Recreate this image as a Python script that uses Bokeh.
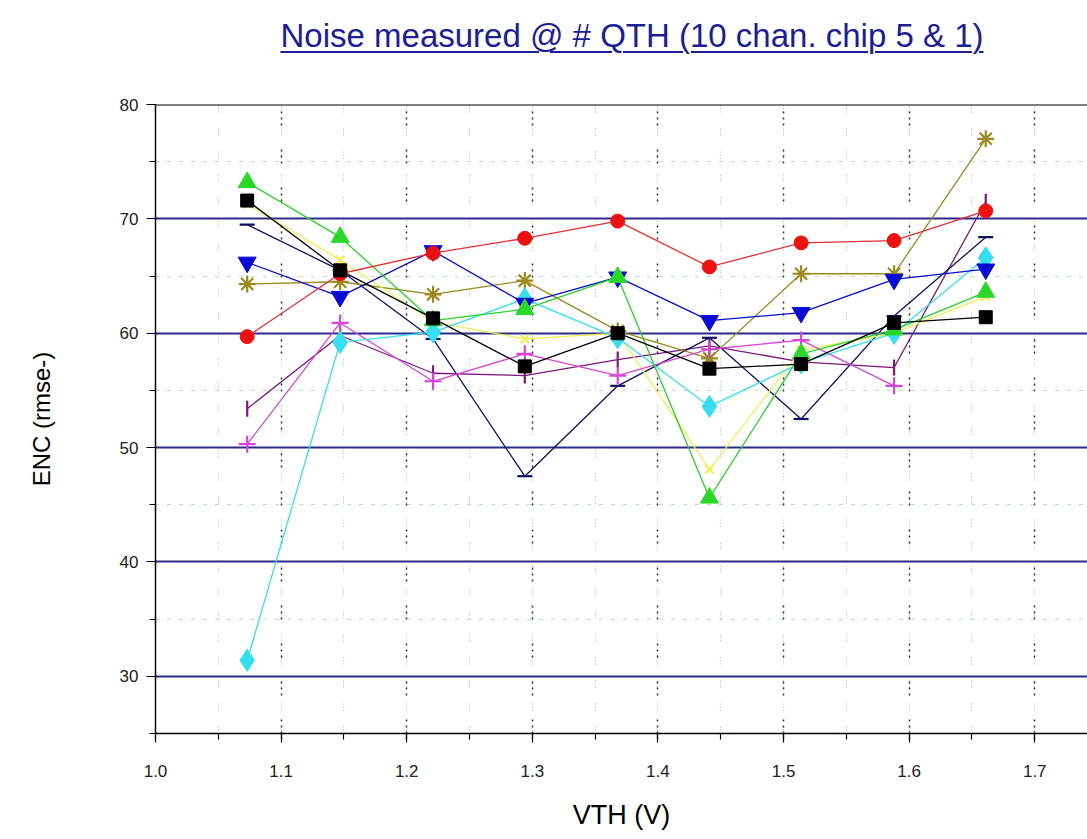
from bokeh.plotting import figure
from bokeh.models import Div, SingleIntervalTicker, PrintfTickFormatter, Span
from bokeh.layouts import column
from bokeh.embed import file_html
from bokeh.resources import INLINE

# ---- data ----
vth = [1.073, 1.147, 1.221, 1.294, 1.368, 1.441, 1.514, 1.588, 1.661]

enc_black_square = [71.6, 65.5, 61.3, 57.1, 60.0, 56.9, 57.3, 60.9, 61.4]
enc_red_circle = [59.7, 65.2, 67.0, 68.3, 69.8, 65.8, 67.9, 68.1, 70.7]
enc_green_triangle = [73.2, 68.4, 61.1, 62.1, 64.9, 45.6, 58.2, 60.3, 63.6]
enc_blue_down = [66.2, 63.2, 67.2, 62.6, 64.9, 61.1, 61.8, 64.7, 65.6]
enc_cyan_diamond = [31.4, 59.2, 60.1, 63.0, 59.6, 53.6, 57.4, 60.0, 66.6]
enc_magenta_plus = [50.3, 60.9, 55.8, 58.2, 56.3, 58.6, 59.4, 55.4]
enc_yellow_x = [71.3, 66.4, 61.0, 59.5, 60.0, 48.1, 58.5, 60.0, 63.2]
enc_olive_star = [64.3, 64.5, 63.4, 64.6, 60.2, 57.8, 65.2, 65.2, 77.0]
enc_navy_dash = [69.5, 65.5, 59.5, 47.5, 55.4, 59.6, 52.5, 61.5, 68.4]
enc_purple_bar = [53.4, 59.8, 56.5, 56.3, 57.7, 58.9, 57.5, 57.0, 71.5]

title_text = "Noise measured @ # QTH (10 chan. chip 5 &amp; 1)"
x_label = "VTH (V)"
y_label = "ENC (rmse-)"

series = [
    # values, marker, line colour, marker colour, size, angle
    (enc_purple_bar, "dash", "#7a1a7a", "#7a1a7a", 16, 1.5708),
    (enc_navy_dash, "dash", "#101060", "#101060", 15, 0.0),
    (enc_olive_star, "asterisk", "#9a8a20", "#9a8a20", 17, 0.0),
    (enc_yellow_x, "x", "#f2ee55", "#f2ee55", 12, 0.0),
    (enc_magenta_plus, "cross", "#d845d8", "#d845d8", 17, 0.0),
    (enc_cyan_diamond, "diamond", "#35dff0", "#35dff0", 22, 0.0),
    (enc_blue_down, "inverted_triangle", "#0a0ad0", "#0a0ad8", 18, 0.0),
    (enc_green_triangle, "triangle", "#2ad22a", "#2ad82a", 18, 0.0),
    (enc_red_circle, "circle", "#e0303a", "#ee1111", 14, 0.0),
    (enc_black_square, "square", "#000000", "#000000", 13, 0.0),
]

div = Div(
    text=(
        '<div style="margin-left:232px;width:800px;text-align:center;white-space:nowrap;'
        "font-family:'Liberation Sans',Arial,sans-serif;font-size:33px;line-height:34px;"
        'padding-top:19px;color:#1d1d95;text-decoration:underline;'
        'text-decoration-thickness:2px;text-underline-offset:4px;">'
        + title_text + "</div>"
    ),
    width=1087, height=64, margin=(0, 0, 0, 0),
)

p = figure(width=1087, height=775, x_range=(1.0, 1.742), y_range=(25, 80),
           output_backend="svg", toolbar_location=None,
           min_border_left=155, min_border_right=0, min_border_top=40,
           min_border_bottom=106, margin=(0, 0, 0, 0))
p.outline_line_color = None
p.background_fill_color = "white"

p.xaxis.ticker = SingleIntervalTicker(interval=0.1, num_minor_ticks=2)
p.yaxis.ticker = SingleIntervalTicker(interval=10, num_minor_ticks=2)
p.xaxis.formatter = PrintfTickFormatter(format="%.1f")

for ax in (p.xaxis, p.yaxis):
    ax.axis_line_color = "black"
    ax.axis_line_width = 1.5
    ax.major_tick_line_color = "black"
    ax.minor_tick_line_color = "black"
    ax.major_tick_line_width = 1.2
    ax.minor_tick_line_width = 1.2
    ax.major_tick_in = 0
    ax.major_tick_out = 9
    ax.minor_tick_in = 0
    ax.minor_tick_out = 6
    ax.major_label_text_font = "Liberation Sans"
    ax.major_label_text_font_size = "17px"
    ax.major_label_text_color = "#222222"
    ax.axis_label_text_font = "Liberation Sans"
    ax.axis_label_text_font_style = "normal"
    ax.axis_label_text_color = "black"

p.xaxis.axis_label = x_label
p.yaxis.axis_label = y_label
p.xaxis.axis_label_text_font_size = "27px"
p.yaxis.axis_label_text_font_size = "24px"
p.xaxis.major_label_standoff = 22
p.yaxis.major_label_standoff = 8
p.xaxis.axis_label_standoff = 20
p.yaxis.axis_label_standoff = 62

# grids
p.ygrid.grid_line_color = "#2c2c88"
p.ygrid.grid_line_width = 2
p.ygrid.minor_grid_line_color = "#7cc87c"
p.ygrid.minor_grid_line_dash = "1 1 1 9"
p.ygrid.minor_grid_line_width = 1.2

p.xgrid.grid_line_color = "#333333"
p.xgrid.grid_line_dash = "2 4 2 4 2 24"
p.xgrid.grid_line_width = 1.5
p.xgrid.minor_grid_line_color = "#9acb9a"
p.xgrid.minor_grid_line_dash = "1 2 1 2 1 16"
p.xgrid.minor_grid_line_width = 1.2

p.add_layout(Span(location=80, dimension="width", line_color="black", line_width=2))

for vals, marker, lc, mc, size, ang in series:
    xs = vth[:len(vals)]
    p.line(xs, vals, line_color=lc, line_width=1.3)

for vals, marker, lc, mc, size, ang in series:
    xs = vth[:len(vals)]
    if marker in ("dash", "cross", "x", "asterisk"):
        p.scatter(xs, vals, marker=marker, size=size, angle=ang,
                  line_color=mc, line_width=2.2, fill_color=None)
    else:
        p.scatter(xs, vals, marker=marker, size=size, angle=ang,
                  line_color=mc, fill_color=mc, line_width=1)

layout = column(div, p, spacing=0)
open("out.html", "w").write(file_html(layout, INLINE))
